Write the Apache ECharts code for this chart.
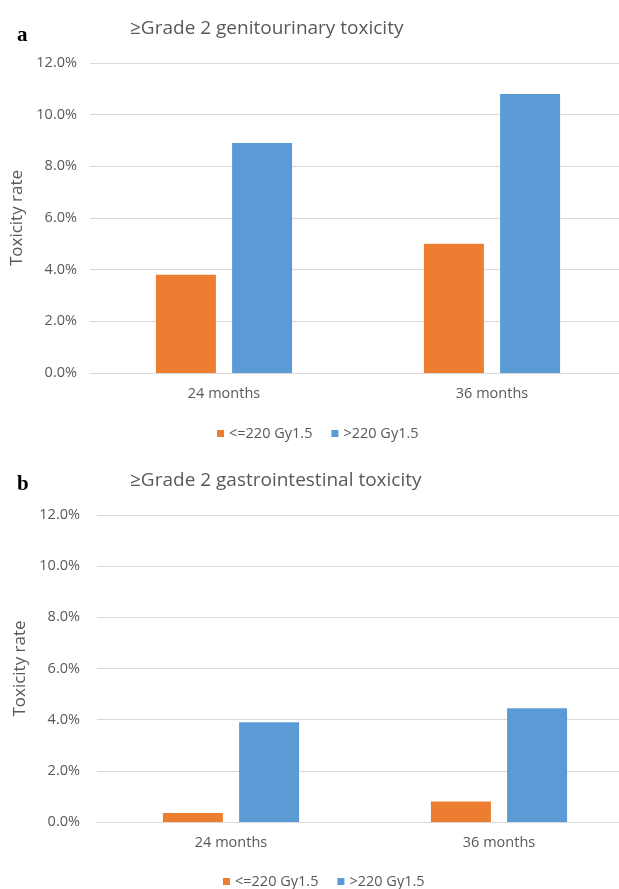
<!DOCTYPE html>
<html lang="en">
<head>
    <meta charset="UTF-8" />
    <title>Toxicity rate</title>
    <script src="https://cdn.jsdelivr.net/npm/echarts@6/dist/echarts.min.js"></script>
    <style>
        html, body { margin: 0; padding: 0; background: #fff; overflow: hidden; }
        #main { width: 640px; height: 889px; }
    </style>
</head>
<body>
    <div id="main"></div>
<script type="text/javascript">

    // data (percent)
    var categories = ['24 months', '36 months'];
    var seriesNames = ['<=220 Gy1.5', '>220 Gy1.5'];
    var guLow = [3.8, 5.0];
    var guHigh = [8.9, 10.8];
    var giLow = [0.35, 0.8];
    var giHigh = [3.9, 4.45];

    var grey = '#595959';
    var font = 'Open Sans';

    function yAxis(idx, margin) {
        return {
            gridIndex: idx,
            type: 'value',
            min: 0,
            max: 12,
            interval: 2,
            name: 'Toxicity rate',
            nameLocation: 'middle',
            nameGap: 62,
            nameTextStyle: { color: grey, fontSize: 17, fontFamily: font },
            axisLine: { show: false },
            axisTick: { show: false },
            axisLabel: {
                color: grey, fontSize: 14.5, fontFamily: font, margin: margin,
                formatter: function (v) { return v.toFixed(1) + '%'; }
            },
            splitLine: { lineStyle: { color: '#d9d9d9', width: 1 } }
        };
    }

    function xAxis(idx) {
        return {
            gridIndex: idx,
            type: 'category',
            data: categories,
            axisLine: { lineStyle: { color: '#d9d9d9', width: 1 } },
            axisTick: { show: false },
            axisLabel: { color: grey, fontSize: 14.5, fontFamily: font, margin: 13 }
        };
    }

    function bar(name, data, idx, color) {
        return {
            name: name,
            type: 'bar',
            xAxisIndex: idx,
            yAxisIndex: idx,
            data: data,
            barWidth: 60,
            barGap: '27%',
            itemStyle: { color: color }
        };
    }

    var chart = echarts.init(document.getElementById('main'));
    chart.setOption({
        animation: false,
        title: [
            { text: '\u2265Grade 2 genitourinary toxicity', left: 125, top: 14,
              textStyle: { color: grey, fontSize: 19, fontWeight: 'normal', fontFamily: font } },
            { text: '\u2265Grade 2 gastrointestinal toxicity', left: 125, top: 466,
              textStyle: { color: grey, fontSize: 19, fontWeight: 'normal', fontFamily: font } },
            { text: 'a', left: 12, top: 20,
              textStyle: { color: '#000', fontSize: 21, fontWeight: 'bold', fontFamily: 'Liberation Serif' } },
            { text: 'b', left: 12, top: 469,
              textStyle: { color: '#000', fontSize: 21, fontWeight: 'bold', fontFamily: 'Liberation Serif' } }
        ],
        legend: [
            { data: seriesNames, left: 212, top: 421, icon: 'rect', itemWidth: 7, itemHeight: 7, itemGap: 19,
              textStyle: { color: grey, fontSize: 14.5, fontFamily: font } },
            { data: seriesNames, left: 218, top: 869, icon: 'rect', itemWidth: 7, itemHeight: 7, itemGap: 19,
              textStyle: { color: grey, fontSize: 14.5, fontFamily: font } }
        ],
        grid: [
            { left: 90, top: 63, width: 536, height: 310 },
            { left: 97, top: 515, width: 536, height: 307 }
        ],
        xAxis: [xAxis(0), xAxis(1)],
        yAxis: [yAxis(0, 13), yAxis(1, 17)],
        series: [
            bar(seriesNames[0], guLow, 0, '#ED7D31'),
            bar(seriesNames[1], guHigh, 0, '#5B9BD5'),
            bar(seriesNames[0], giLow, 1, '#ED7D31'),
            bar(seriesNames[1], giHigh, 1, '#5B9BD5')
        ]
    });
</script>
</body>
</html>
